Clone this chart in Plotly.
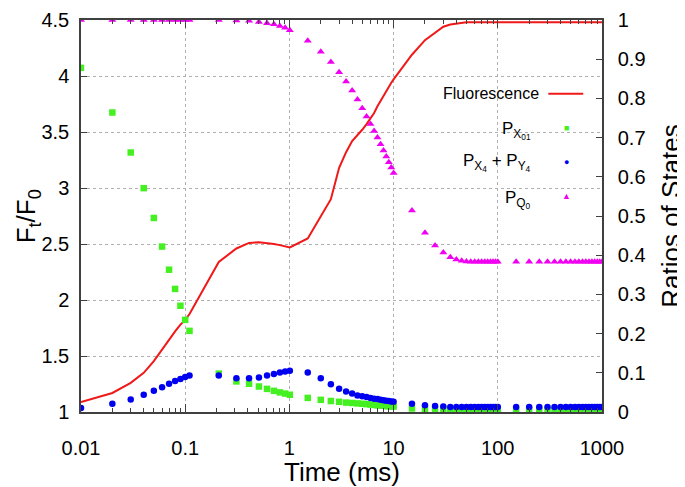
import plotly.graph_objects as go

# ---- data ----
time_ms = [0.01, 0.02, 0.03, 0.04, 0.05, 0.06, 0.07, 0.08, 0.09, 0.10, 0.11,
           0.21, 0.31, 0.41, 0.51, 0.61, 0.71, 0.81, 0.91, 1.01,
           1.5, 2.0, 2.5, 3.0, 3.5, 4.0, 4.5, 5.0, 5.5, 6.0, 6.5, 7.0, 7.5, 8.0, 8.5, 9.0, 9.5, 10.0,
           15, 20, 25, 30, 35, 40, 45, 50, 55, 60, 65, 70, 75, 80, 85, 90, 95, 100,
           150, 200, 250, 300, 350, 400, 450, 500, 550, 600, 650, 700, 750, 800, 850, 900, 950, 1000]

fluorescence = [1.09, 1.17, 1.26, 1.35, 1.455, 1.56, 1.65, 1.72, 1.78, 1.82, 1.875,
                2.34, 2.46, 2.51, 2.515, 2.51, 2.50, 2.49, 2.48, 2.47,
                2.55, 2.75, 2.90, 3.18, 3.32, 3.42, 3.47, 3.52, 3.57, 3.62, 3.67, 3.73, 3.78, 3.82, 3.86, 3.90, 3.94, 3.97,
                4.19, 4.32, 4.39, 4.44, 4.46, 4.47, 4.475, 4.48, 4.48, 4.48, 4.48, 4.48, 4.48, 4.48, 4.48, 4.48, 4.48, 4.48,
                4.48, 4.48, 4.48, 4.48, 4.48, 4.48, 4.48, 4.48, 4.48, 4.48, 4.48, 4.48, 4.48, 4.48, 4.48, 4.48, 4.48, 4.48]

p_x01 = [0.878, 0.764, 0.662, 0.571, 0.495, 0.422, 0.363, 0.314, 0.271, 0.235, 0.207,
         0.098, 0.078, 0.072, 0.065, 0.059, 0.054, 0.050, 0.047, 0.044,
         0.036, 0.031, 0.028, 0.026, 0.024, 0.023, 0.022, 0.021, 0.020, 0.019, 0.018, 0.017, 0.017, 0.016, 0.015, 0.015, 0.014, 0.014,
         0.009, 0.008, 0.007, 0.007, 0.006, 0.006, 0.006, 0.005, 0.005, 0.005, 0.005, 0.005, 0.005, 0.005, 0.005, 0.005, 0.005, 0.005,
         0.005, 0.005, 0.005, 0.005, 0.005, 0.005, 0.005, 0.005, 0.005, 0.005, 0.005, 0.005, 0.005, 0.005, 0.005, 0.005, 0.005, 0.005]

p_x4_y4 = [0.010, 0.021, 0.032, 0.044, 0.054, 0.063, 0.072, 0.079, 0.084, 0.089, 0.093,
           0.093, 0.086, 0.086, 0.088, 0.093, 0.097, 0.101, 0.103, 0.105,
           0.101, 0.086, 0.071, 0.059, 0.052, 0.047, 0.042, 0.040, 0.038, 0.036, 0.034, 0.033, 0.031, 0.030, 0.029, 0.028, 0.027, 0.026,
           0.021, 0.017, 0.015, 0.014, 0.013, 0.013, 0.013, 0.013, 0.013, 0.013, 0.013, 0.013, 0.013, 0.013, 0.013, 0.013, 0.013, 0.013,
           0.013, 0.013, 0.013, 0.013, 0.013, 0.013, 0.013, 0.013, 0.013, 0.013, 0.013, 0.013, 0.013, 0.013, 0.013, 0.013, 0.013, 0.013]

p_q0 = [1.0, 1.0, 1.0, 1.0, 1.0, 1.0, 1.0, 1.0, 1.0, 1.0, 1.0,
        1.0, 0.999, 0.998, 0.995, 0.992, 0.989, 0.985, 0.980, 0.974,
        0.947, 0.919, 0.893, 0.867, 0.843, 0.820, 0.797, 0.775, 0.754, 0.735, 0.717, 0.700, 0.683, 0.667, 0.652, 0.637, 0.624, 0.610,
        0.514, 0.457, 0.425, 0.407, 0.395, 0.389, 0.386, 0.384, 0.383, 0.383, 0.383, 0.383, 0.383, 0.383, 0.383, 0.383, 0.383, 0.383,
        0.383, 0.383, 0.383, 0.383, 0.383, 0.383, 0.383, 0.383, 0.383, 0.383, 0.383, 0.383, 0.383, 0.383, 0.383, 0.383, 0.383, 0.383]

x_tick_vals = [0.01, 0.1, 1, 10, 100, 1000]
x_tick_text = ["0.01", "0.1", "1", "10", "100", "1000"]
y_tick_vals = [1, 1.5, 2, 2.5, 3, 3.5, 4, 4.5]
y_tick_text = ["1", "1.5", "2", "2.5", "3", "3.5", "4", "4.5"]
y2_tick_vals = [0, 0.1, 0.2, 0.3, 0.4, 0.5, 0.6, 0.7, 0.8, 0.9, 1]
y2_tick_text = ["0", "0.1", "0.2", "0.3", "0.4", "0.5", "0.6", "0.7", "0.8", "0.9", "1"]

x_title = "Time (ms)"
y_title = "F<sub>t</sub>/F<sub>0</sub>"
y2_title = "Ratios of States"
legend_labels = ["Fluorescence", "P<sub>X<sub>01</sub></sub>",
                 "P<sub>X<sub>4</sub></sub> + P<sub>Y<sub>4</sub></sub>", "P<sub>Q<sub>0</sub></sub>"]

RED = "#f01818"
GREEN = "#44f020"
BLUE = "#0000f0"
MAGENTA = "#f000f0"
FONT = "Liberation Sans, Arial, Helvetica, sans-serif"
AXC = "#404040"

fig = go.Figure()
fig.add_trace(go.Scatter(x=time_ms, y=fluorescence, mode="lines",
                         line=dict(color=RED, width=2), yaxis="y", showlegend=False))
fig.add_trace(go.Scatter(x=time_ms, y=p_x01, mode="markers",
                         marker=dict(symbol="square", size=6.5, color=GREEN), yaxis="y2", showlegend=False))
fig.add_trace(go.Scatter(x=time_ms, y=p_x4_y4, mode="markers",
                         marker=dict(symbol="circle", size=6.5, color=BLUE), yaxis="y2", showlegend=False))
fig.add_trace(go.Scatter(x=time_ms, y=p_q0, mode="markers",
                         marker=dict(symbol="triangle-up", size=7, color=MAGENTA), yaxis="y2", showlegend=False))

# the page body adds an 8px offset, so margins are shifted to compensate
fig.update_layout(
    width=685, height=487,
    margin=dict(l=73, r=91, t=12, b=83, autoexpand=False),
    paper_bgcolor="white", plot_bgcolor="white",
    font=dict(family=FONT, size=20, color="black"),
    xaxis=dict(type="log", range=[-2, 3], tickvals=x_tick_vals, ticktext=x_tick_text,
               ticks="inside", ticklen=8, tickcolor=AXC, tickwidth=1,
               showline=True, linecolor=AXC, linewidth=1.5, mirror="ticks",
               showgrid=True, gridcolor="#b0b0b0", griddash="dot", gridwidth=1,
               minor=dict(ticks="inside", ticklen=4, tickcolor=AXC, dtick="D1", showgrid=False),
               ticklabelstandoff=17, zeroline=False, automargin=False),
    yaxis=dict(range=[1, 4.5], tickvals=y_tick_vals, ticktext=y_tick_text,
               ticks="inside", ticklen=6, tickcolor=AXC,
               showline=True, linecolor=AXC, linewidth=1.5, mirror=False,
               showgrid=True, gridcolor="#b0b0b0", griddash="dot", gridwidth=1,
               ticklabelstandoff=6, zeroline=False, automargin=False),
    yaxis2=dict(range=[0, 1], overlaying="y", side="right",
                tickvals=y2_tick_vals, ticktext=y2_tick_text,
                ticks="inside", ticklen=6, tickcolor=AXC,
                showline=True, linecolor=AXC, linewidth=1.5,
                showgrid=False, zeroline=False, ticklabelstandoff=10, automargin=False),
)

# axis titles
fig.add_annotation(text=x_title, xref="paper", yref="paper", x=0.5, y=-0.153,
                   xanchor="center", yanchor="middle", showarrow=False, borderpad=0,
                   font=dict(size=26))
fig.add_annotation(text=y_title, xref="paper", yref="paper", x=-0.103, y=0.5, textangle=-90,
                   xanchor="center", yanchor="middle", showarrow=False, font=dict(size=26))
fig.add_annotation(text=y2_title, xref="paper", yref="paper", x=1.132, y=0.5, textangle=-90,
                   xanchor="center", yanchor="middle", showarrow=False, borderpad=0,
                   font=dict(size=26))

# legend box (white, hides grid) and gnuplot-style key
fig.add_shape(type="rect", xref="paper", yref="paper", x0=0.7146, x1=0.997, y0=0.503, y1=0.848,
              fillcolor="white", line=dict(width=0), layer="between")
fig.add_shape(type="line", xref="paper", yref="paper", x0=0.897, x1=0.964, y0=0.812, y1=0.812,
              line=dict(color=RED, width=2))

text_x = [0.883, 0.868, 0.868, 0.868]
text_y = [0.812, 0.719, 0.636, 0.542]
text_size = [16, 17, 17, 17]
sym_y = [0.7235, 0.6367, 0.55]
for lbl, xx, yy, fs in zip(legend_labels, text_x, text_y, text_size):
    fig.add_annotation(text=lbl, xref="paper", yref="paper", x=xx, y=yy,
                       xanchor="right", yanchor="middle", showarrow=False,
                       font=dict(size=fs, family=FONT, color="black"))
for sym, col, yy in zip(["■", "●", "▲"], [GREEN, BLUE, MAGENTA], sym_y):
    fig.add_annotation(text=sym, xref="paper", yref="paper", x=0.931, y=yy,
                       xanchor="center", yanchor="middle", showarrow=False,
                       font=dict(size=9, color=col))

fig.write_html("out.html")
